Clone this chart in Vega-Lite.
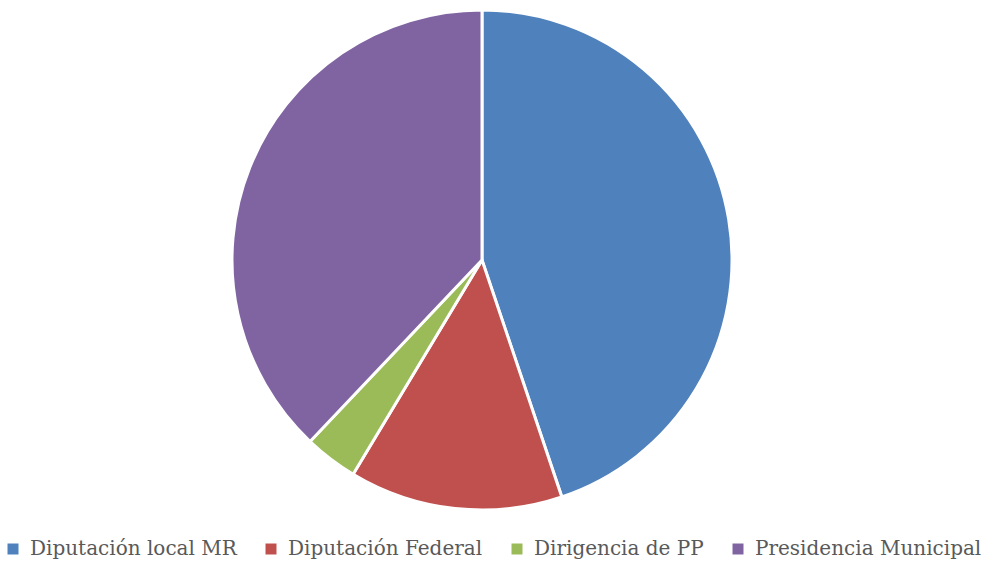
{
  "$schema": "https://vega.github.io/schema/vega-lite/v6.json",
  "width": 964,
  "height": 520,
  "autosize": {"type": "none"},
  "padding": {"left": 0, "top": 0, "right": 24, "bottom": 45},
  "background": "white",
  "data": {
    "values": [
      {"cargo": "Diputación local MR", "n": 13, "orden": 1},
      {"cargo": "Diputación Federal", "n": 4, "orden": 2},
      {"cargo": "Dirigencia de PP", "n": 1, "orden": 3},
      {"cargo": "Presidencia Municipal", "n": 11, "orden": 4}
    ]
  },
  "mark": {"type": "arc", "outerRadius": 250, "stroke": "white", "strokeWidth": 3},
  "encoding": {
    "theta": {"field": "n", "type": "quantitative", "stack": true},
    "order": {"field": "orden", "type": "quantitative"},
    "color": {
      "field": "cargo",
      "type": "nominal",
      "sort": ["Diputación local MR", "Diputación Federal", "Dirigencia de PP", "Presidencia Municipal"],
      "scale": {
        "domain": ["Diputación local MR", "Diputación Federal", "Dirigencia de PP", "Presidencia Municipal"],
        "range": ["#4F81BD", "#C0504D", "#9BBB59", "#8064A2"]
      },
      "legend": {
        "title": null,
        "orient": "none",
        "direction": "horizontal",
        "legendX": 3,
        "legendY": 539,
        "symbolType": "square",
        "symbolSize": 121,
        "symbolStrokeWidth": 0,
        "labelFont": "DejaVu Serif",
        "labelFontSize": 20,
        "labelColor": "#595959",
        "labelOffset": 7,
        "columnPadding": 24,
        "labelLimit": 400
      }
    }
  }
}
